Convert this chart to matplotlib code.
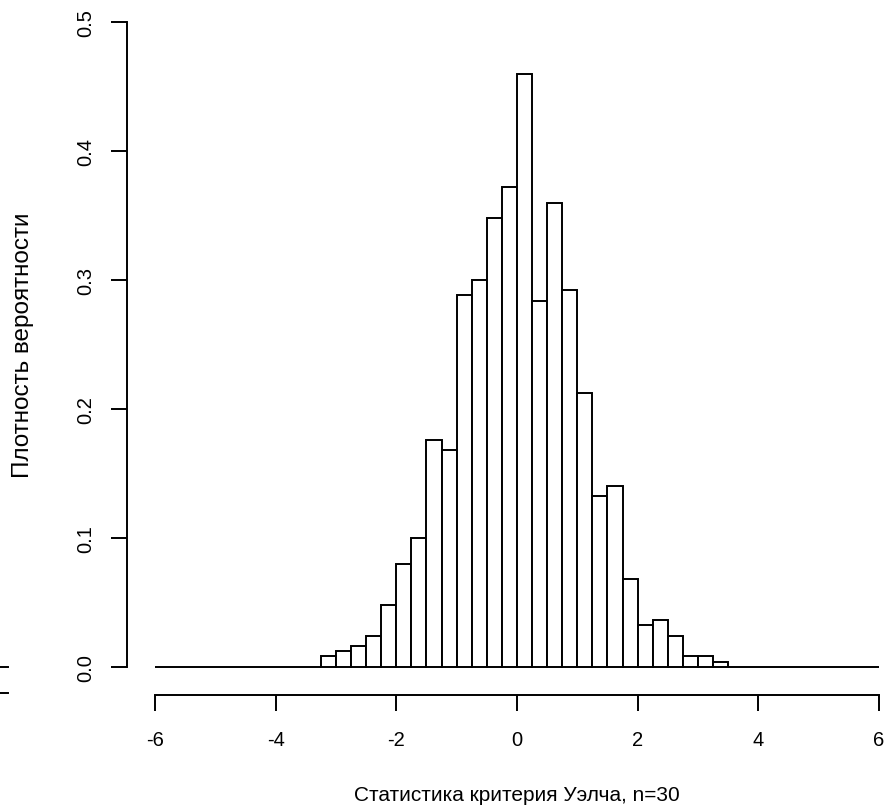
import numpy as np
import matplotlib
matplotlib.use("Agg")
import matplotlib.pyplot as plt
from matplotlib.lines import Line2D

plt.rcParams['font.family'] = ['Liberation Sans', 'DejaVu Sans']

# Welch statistic, 1000 replications, bin width 0.25 on [-6, 6]
n_rep = 1000
bin_w = 0.25
first_edge = -3.25
counts = [2, 3, 4, 6, 12, 20, 25, 44, 42, 72, 75, 87, 93,
          115, 71, 90, 73, 53, 33, 35, 17, 8, 9, 6, 2, 2, 1]
x_ticks = [-6, -4, -2, 0, 2, 4, 6]
y_ticks = [0.0, 0.1, 0.2, 0.3, 0.4, 0.5]
x_title = "Статистика критерия Уэлча, n=30"
y_title = "Плотность вероятности"

edges = np.arange(-6, 6 + bin_w / 2, bin_w)
full = np.zeros(len(edges) - 1)
i0 = int(round((first_edge + 6) / bin_w))
full[i0:i0 + len(counts)] = counts
dens = full / (n_rep * bin_w)

W, H = 892, 812
fig = plt.figure(figsize=(W / 100, H / 100), dpi=100)

# axes box in pixels: left spine at 127, bottom spine at 696
L, R, B, T = 127, 892, 696, 0
ax = fig.add_axes([L / W, 1 - B / H, (R - L) / W, (B - T) / H])
px_x = 60.33
px_y = 1289.4
x0_px, y0_px = 155, 667.7
ax.set_xlim(-6 - (x0_px - L) / px_x, 6 + (R - (x0_px + 12 * px_x)) / px_x)
ax.set_ylim(-(B - y0_px) / px_y, (y0_px - T) / px_y)

lw = 1.4
ax.bar(edges[:-1], dens, width=bin_w, align='edge', facecolor='white',
       edgecolor='black', linewidth=lw)

for s in ['top', 'right']:
    ax.spines[s].set_visible(False)
ax.spines['left'].set_bounds(0, 0.5)
ax.spines['bottom'].set_bounds(-6, 6)
ax.spines['left'].set_linewidth(lw)
ax.spines['bottom'].set_linewidth(lw)

ax.set_xticks(x_ticks)
ax.set_xticklabels([str(v) for v in x_ticks])
ax.set_yticks(y_ticks)
ax.set_yticklabels([f"{v:.1f}" for v in y_ticks], rotation=90, va='center')
ax.tick_params(direction='out', length=11.5, width=lw, labelsize=14.5,
               colors='black')
ax.tick_params(axis='x', pad=14)
ax.tick_params(axis='y', pad=11)

fig.text(517 / W, 1 - 796 / H, x_title, ha='center', va='center', fontsize=15)
fig.text(23 / W, 1 - 345 / H, y_title, ha='center', va='center',
         rotation=90, fontsize=17.5)

# stray tick marks from the neighbouring panel at the left edge
for yy in (667.7, 694):
    fig.add_artist(Line2D([0, 8 / W], [1 - yy / H, 1 - yy / H],
                          color='black', linewidth=lw))

fig.savefig("out.png", dpi=100)
